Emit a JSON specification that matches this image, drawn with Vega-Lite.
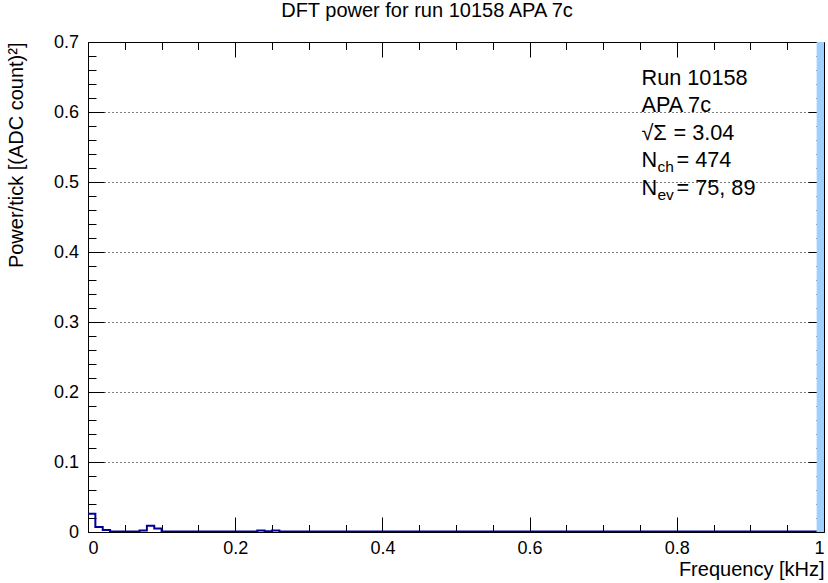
{
  "$schema": "https://vega.github.io/schema/vega-lite/v6.json",
  "width": 736,
  "height": 490,
  "autosize": {"type": "none"},
  "padding": {"left": 88, "top": 42, "right": 4, "bottom": 51},
  "background": "white",
  "title": {"text": "DFT power for run 10158 APA 7c", "font": "Liberation Sans", "fontSize": 20, "fontWeight": "normal", "color": "#000", "anchor": "middle", "dx": -29, "offset": 12},
  "config": {
    "view": {"stroke": "#000", "strokeWidth": 1},
    "axis": {"labelFont": "Liberation Sans", "titleFont": "Liberation Sans", "labelFontSize": 18, "titleFontSize": 20, "titleFontWeight": "normal", "labelColor": "#000", "titleColor": "#000", "tickColor": "#000", "domain": false, "grid": false, "tickWidth": 1}
  },
  "datasets": {
    "hist": [
      {"f": 0.00, "p": 0.026}, {"f": 0.01, "p": 0.007}, {"f": 0.02, "p": 0.003}, {"f": 0.03, "p": 0.0008}, {"f": 0.04, "p": 0.0008},
      {"f": 0.05, "p": 0.0008}, {"f": 0.06, "p": 0.0008}, {"f": 0.07, "p": 0.002}, {"f": 0.08, "p": 0.009}, {"f": 0.09, "p": 0.005},
      {"f": 0.10, "p": 0.0008}, {"f": 0.11, "p": 0.0008}, {"f": 0.12, "p": 0.0008}, {"f": 0.13, "p": 0.0008}, {"f": 0.14, "p": 0.0008},
      {"f": 0.15, "p": 0.0008}, {"f": 0.16, "p": 0.0008}, {"f": 0.17, "p": 0.0008}, {"f": 0.18, "p": 0.0008}, {"f": 0.19, "p": 0.0008},
      {"f": 0.20, "p": 0.0008}, {"f": 0.21, "p": 0.0008}, {"f": 0.22, "p": 0.0008}, {"f": 0.23, "p": 0.002}, {"f": 0.24, "p": 0.001},
      {"f": 0.25, "p": 0.002}, {"f": 0.26, "p": 0.0008}, {"f": 0.27, "p": 0.0008}, {"f": 0.28, "p": 0.0008}, {"f": 0.29, "p": 0.0008},
      {"f": 0.30, "p": 0.0008}, {"f": 0.35, "p": 0.0008}, {"f": 0.40, "p": 0.0008}, {"f": 0.45, "p": 0.0008}, {"f": 0.50, "p": 0.0008},
      {"f": 0.55, "p": 0.0008}, {"f": 0.60, "p": 0.0008}, {"f": 0.65, "p": 0.0008}, {"f": 0.70, "p": 0.0008}, {"f": 0.75, "p": 0.0008},
      {"f": 0.80, "p": 0.0008}, {"f": 0.85, "p": 0.0008}, {"f": 0.90, "p": 0.0008}, {"f": 0.95, "p": 0.0008}, {"f": 0.99, "p": 0.0008}
    ],
    "spike": [{"f0": 0.99, "f1": 1.0, "p": 0.7}],
    "one": [{"k": 1}]
  },
  "layer": [
    {
      "data": {"name": "spike"},
      "mark": {"type": "rect", "color": "#9ecfff", "clip": true},
      "encoding": {
        "x": {"field": "f0", "type": "quantitative", "scale": {"domain": [0, 1], "nice": false, "zero": false}, "axis": null},
        "x2": {"field": "f1"},
        "y": {"field": "p", "type": "quantitative", "scale": {"domain": [0, 0.7], "nice": false, "zero": true}, "axis": null},
        "y2": {"datum": 0}
      }
    },
    {
      "data": {"name": "hist"},
      "mark": {"type": "line", "interpolate": "step-after", "color": "#000099", "strokeWidth": 2, "clip": true},
      "encoding": {
        "x": {"field": "f", "type": "quantitative", "title": "Frequency [kHz]",
          "axis": {"orient": "bottom", "values": [0, 0.2, 0.4, 0.6, 0.8, 1], "format": "~g", "tickSize": -15, "labelPadding": 22, "titleAnchor": "end", "titlePadding": 2}},
        "y": {"field": "p", "type": "quantitative", "title": "Power/tick [(ADC count)²]",
          "axis": {"orient": "left", "values": [0, 0.1, 0.2, 0.3, 0.4, 0.5, 0.6, 0.7], "format": "~g", "tickSize": -16, "labelPadding": 25.5, "titleAnchor": "end", "titlePadding": 27,
            "grid": true, "gridDash": [1, 3], "gridColor": "#000", "gridWidth": 1}}
      }
    },
    {
      "data": {"name": "hist"},
      "mark": {"type": "point", "opacity": 0},
      "encoding": {
        "x": {"field": "f", "type": "quantitative", "axis": {"orient": "bottom", "values": [0.05, 0.1, 0.15, 0.25, 0.3, 0.35, 0.45, 0.5, 0.55, 0.65, 0.7, 0.75, 0.85, 0.9, 0.95], "labels": false, "title": null, "tickSize": -7.5}},
        "y": {"field": "p", "type": "quantitative", "axis": {"orient": "left", "values": [0.02, 0.04, 0.06, 0.08, 0.12, 0.14, 0.16, 0.18, 0.22, 0.24, 0.26, 0.28, 0.32, 0.34, 0.36, 0.38, 0.42, 0.44, 0.46, 0.48, 0.52, 0.54, 0.56, 0.58, 0.62, 0.64, 0.66, 0.68], "labels": false, "title": null, "tickSize": -8}}
      }
    },
    {
      "data": {"name": "hist"},
      "mark": {"type": "point", "opacity": 0},
      "encoding": {
        "x": {"field": "f", "type": "quantitative", "axis": {"orient": "top", "values": [0.2, 0.4, 0.6, 0.8], "labels": false, "title": null, "tickSize": -15}},
        "y": {"field": "p", "type": "quantitative", "axis": {"orient": "right", "values": [0.1, 0.2, 0.3, 0.4, 0.5, 0.6], "labels": false, "title": null, "tickSize": -16}}
      }
    },
    {
      "data": {"name": "hist"},
      "mark": {"type": "point", "opacity": 0},
      "encoding": {
        "x": {"field": "f", "type": "quantitative", "axis": {"orient": "top", "values": [0.05, 0.1, 0.15, 0.25, 0.3, 0.35, 0.45, 0.5, 0.55, 0.65, 0.7, 0.75, 0.85, 0.9, 0.95], "labels": false, "title": null, "tickSize": -7.5}},
        "y": {"field": "p", "type": "quantitative", "axis": {"orient": "right", "values": [0.02, 0.04, 0.06, 0.08, 0.12, 0.14, 0.16, 0.18, 0.22, 0.24, 0.26, 0.28, 0.32, 0.34, 0.36, 0.38, 0.42, 0.44, 0.46, 0.48, 0.52, 0.54, 0.56, 0.58, 0.62, 0.64, 0.66, 0.68], "labels": false, "title": null, "tickSize": -8}}
      }
    },
    {
      "data": {"name": "one"},
      "mark": {"type": "text", "font": "Liberation Sans", "fontSize": 21.7, "align": "left", "baseline": "alphabetic", "color": "#000"},
      "encoding": {"x": {"datum": 0.752, "type": "quantitative", "axis": null}, "y": {"datum": 0.6386, "type": "quantitative", "axis": null}, "text": {"value": "Run 10158"}}
    },
    {
      "data": {"name": "one"},
      "mark": {"type": "text", "font": "Liberation Sans", "fontSize": 21.7, "align": "left", "baseline": "alphabetic", "color": "#000"},
      "encoding": {"x": {"datum": 0.752, "type": "quantitative", "axis": null}, "y": {"datum": 0.6004, "type": "quantitative", "axis": null}, "text": {"value": "APA 7c"}}
    },
    {
      "data": {"name": "one"},
      "mark": {"type": "text", "font": "Liberation Sans", "fontSize": 21.7, "align": "left", "baseline": "alphabetic", "color": "#000"},
      "encoding": {"x": {"datum": 0.752, "type": "quantitative", "axis": null}, "y": {"datum": 0.56, "type": "quantitative", "axis": null}, "text": {"value": "√Σ"}}
    },
    {
      "data": {"name": "one"},
      "mark": {"type": "text", "font": "Liberation Sans", "fontSize": 21.7, "align": "left", "baseline": "alphabetic", "color": "#000", "dx": 32},
      "encoding": {"x": {"datum": 0.752, "type": "quantitative", "axis": null}, "y": {"datum": 0.56, "type": "quantitative", "axis": null}, "text": {"value": "= 3.04"}}
    },
    {
      "data": {"name": "one"},
      "mark": {"type": "text", "font": "Liberation Sans", "fontSize": 21.7, "align": "left", "baseline": "alphabetic", "color": "#000"},
      "encoding": {"x": {"datum": 0.752, "type": "quantitative", "axis": null}, "y": {"datum": 0.5219, "type": "quantitative", "axis": null}, "text": {"value": "N"}}
    },
    {
      "data": {"name": "one"},
      "mark": {"type": "text", "font": "Liberation Sans", "fontSize": 15.5, "align": "left", "baseline": "alphabetic", "color": "#000", "dx": 16, "dy": 5},
      "encoding": {"x": {"datum": 0.752, "type": "quantitative", "axis": null}, "y": {"datum": 0.5219, "type": "quantitative", "axis": null}, "text": {"value": "ch"}}
    },
    {
      "data": {"name": "one"},
      "mark": {"type": "text", "font": "Liberation Sans", "fontSize": 21.7, "align": "left", "baseline": "alphabetic", "color": "#000", "dx": 35},
      "encoding": {"x": {"datum": 0.752, "type": "quantitative", "axis": null}, "y": {"datum": 0.5219, "type": "quantitative", "axis": null}, "text": {"value": "= 474"}}
    },
    {
      "data": {"name": "one"},
      "mark": {"type": "text", "font": "Liberation Sans", "fontSize": 21.7, "align": "left", "baseline": "alphabetic", "color": "#000"},
      "encoding": {"x": {"datum": 0.752, "type": "quantitative", "axis": null}, "y": {"datum": 0.4814, "type": "quantitative", "axis": null}, "text": {"value": "N"}}
    },
    {
      "data": {"name": "one"},
      "mark": {"type": "text", "font": "Liberation Sans", "fontSize": 15.5, "align": "left", "baseline": "alphabetic", "color": "#000", "dx": 16, "dy": 5},
      "encoding": {"x": {"datum": 0.752, "type": "quantitative", "axis": null}, "y": {"datum": 0.4814, "type": "quantitative", "axis": null}, "text": {"value": "ev"}}
    },
    {
      "data": {"name": "one"},
      "mark": {"type": "text", "font": "Liberation Sans", "fontSize": 21.7, "align": "left", "baseline": "alphabetic", "color": "#000", "dx": 35},
      "encoding": {"x": {"datum": 0.752, "type": "quantitative", "axis": null}, "y": {"datum": 0.4814, "type": "quantitative", "axis": null}, "text": {"value": "= 75, 89"}}
    }
  ]
}
